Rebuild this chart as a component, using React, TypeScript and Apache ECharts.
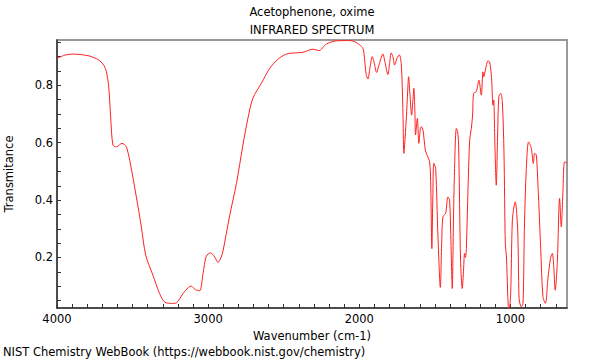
import React, { useEffect, useRef } from "react";
import * as echarts from "echarts";

const wavenumbers = [
  4000, 3950, 3894, 3840, 3784, 3740, 3718, 3690, 3673, 3658, 3645, 3630, 3607, 3585, 3570, 3555, 3541, 3519,
  3475, 3442, 3413, 3365, 3321, 3288, 3243, 3210, 3167, 3130, 3111, 3085, 3056, 3034, 3012, 2985, 2957, 2935,
  2915, 2902, 2858, 2813, 2770, 2737, 2704, 2648, 2593, 2538, 2483, 2430, 2373, 2307, 2267, 2218, 2152, 2064,
  2030, 1998, 1976, 1965, 1955, 1943, 1930, 1914, 1900, 1886, 1865, 1844, 1830, 1811, 1800, 1789, 1778, 1766,
  1750, 1735, 1722, 1712, 1705, 1697, 1689, 1680, 1674, 1664, 1654, 1645, 1639, 1632, 1628, 1616, 1606, 1596,
  1590, 1579, 1563, 1550, 1535, 1528, 1520, 1514, 1507, 1495, 1480, 1464, 1455, 1447, 1429, 1414, 1403, 1395,
  1385, 1378, 1370, 1358, 1350, 1343, 1330, 1319, 1310, 1304, 1298, 1292, 1282, 1270, 1259, 1250, 1244, 1226,
  1209, 1193, 1182, 1176, 1166, 1149, 1138, 1125, 1116, 1111, 1103, 1094, 1085, 1077, 1065, 1054, 1043, 1034,
  1027, 1017, 1010, 999, 988, 977, 968, 958, 951, 944, 940, 928, 917, 907, 895, 880, 862, 849, 840, 829, 818,
  800, 785, 769, 752, 735, 723, 713, 704, 690, 675, 664, 653, 642, 626,
];

const transmittance = [
  0.894, 0.905, 0.909, 0.907, 0.902, 0.893, 0.886, 0.870, 0.847, 0.795, 0.690, 0.592, 0.586, 0.593, 0.598, 0.594,
  0.586, 0.539, 0.411, 0.307, 0.208, 0.138, 0.074, 0.045, 0.040, 0.042, 0.074, 0.096, 0.100, 0.088, 0.084, 0.144,
  0.205, 0.216, 0.202, 0.183, 0.200, 0.222, 0.345, 0.458, 0.592, 0.685, 0.755, 0.807, 0.859, 0.891, 0.909, 0.913,
  0.915, 0.926, 0.921, 0.944, 0.955, 0.956, 0.952, 0.941, 0.929, 0.890, 0.840, 0.822, 0.860, 0.900, 0.875, 0.845,
  0.880, 0.909, 0.880, 0.838, 0.875, 0.913, 0.900, 0.871, 0.895, 0.906, 0.871, 0.720, 0.563, 0.620, 0.685, 0.780,
  0.830, 0.760, 0.696, 0.750, 0.790, 0.700, 0.627, 0.685, 0.598, 0.650, 0.656, 0.644, 0.574, 0.555, 0.533, 0.464,
  0.231, 0.400, 0.528, 0.510, 0.278, 0.096, 0.250, 0.342, 0.354, 0.411, 0.400, 0.280, 0.092, 0.300, 0.510, 0.650,
  0.640, 0.592, 0.185, 0.092, 0.160, 0.214, 0.200, 0.231, 0.417, 0.609, 0.650, 0.700, 0.772, 0.778, 0.818, 0.766,
  0.847, 0.830, 0.853, 0.885, 0.882, 0.824, 0.731, 0.749, 0.592, 0.452, 0.627, 0.760, 0.772, 0.743, 0.568, 0.243,
  0.208, 0.057, 0.012, 0.069, 0.324, 0.377, 0.394, 0.348, 0.278, 0.069, 0.045, 0.028, 0.040, 0.324, 0.510, 0.603,
  0.580, 0.528, 0.563, 0.557, 0.452, 0.231, 0.063, 0.040, 0.127, 0.197, 0.214, 0.162, 0.086, 0.185, 0.406, 0.307,
  0.429, 0.533, 0.530,
];

const xTickValues = [
  700, 800, 900, 1000, 1100, 1200, 1300, 1400, 1500, 1600, 1700, 1800, 1900, 2000, 2100, 2200, 2300, 2400, 2500,
  2600, 2700, 2800, 2900, 3000, 3100, 3200, 3300, 3400, 3500, 3600, 3700, 3800, 3900, 4000,
];
const xLabelValues = [1000, 2000, 3000, 4000];
const yTickValues = [
  0.05, 0.1, 0.15, 0.2, 0.25, 0.3, 0.35, 0.4, 0.45, 0.5, 0.55, 0.6, 0.65, 0.7, 0.75, 0.8, 0.85, 0.9, 0.95,
];
const yLabelValues = [0.2, 0.4, 0.6, 0.8];

const titleLine1 = "Acetophenone, oxime";
const titleLine2 = "INFRARED SPECTRUM";
const xName = "Wavenumber (cm-1)";
const yName = "Transmitance";
const footer = "NIST Chemistry WebBook (https://webbook.nist.gov/chemistry)";

const FONT = "DejaVu Sans";
const FS = 11.5;

export default function App() {
  const ref = useRef<HTMLDivElement>(null);
  useEffect(() => {
    if (!ref.current) return;
    const chart = echarts.init(ref.current, undefined, { renderer: "svg" });
    const data = wavenumbers.map((w, i) => [w, transmittance[i]]);
    chart.setOption({
      animation: false,
      backgroundColor: "#ffffff",
      textStyle: { fontFamily: FONT },
      grid: {
        left: 57,
        right: 33,
        top: 40,
        bottom: 52,
        containLabel: false,
        outerBoundsMode: "none",
        show: true,
        borderColor: "#9a9a9a",
        borderWidth: 2,
        backgroundColor: "transparent",
      },
      xAxis: {
        type: "value",
        inverse: true,
        min: 626,
        max: 4000,
        name: xName,
        nameLocation: "middle",
        nameGap: 18,
        nameTextStyle: { fontFamily: FONT, fontSize: FS, color: "#000", verticalAlign: "top" },
        axisLine: { show: true, onZero: false, lineStyle: { color: "#333", width: 1.5 } },
        axisTick: { show: true, inside: true, length: 4, customValues: xTickValues, lineStyle: { color: "#333" } },
        axisLabel: {
          show: true,
          customValues: xLabelValues,
          margin: 5,
          fontFamily: FONT,
          fontSize: FS,
          color: "#000",
          formatter: (v: number) => String(Math.round(v)),
        },
        splitLine: { show: false },
      },
      yAxis: {
        type: "value",
        min: 0.024,
        max: 0.958,
        name: yName,
        nameLocation: "middle",
        nameRotate: 90,
        nameGap: 42,
        nameTextStyle: { fontFamily: FONT, fontSize: FS, color: "#000" },
        axisLine: { show: true, onZero: false, lineStyle: { color: "#333", width: 1.5 } },
        axisTick: { show: true, inside: true, length: 4, customValues: yTickValues, lineStyle: { color: "#333" } },
        axisLabel: {
          show: true,
          customValues: yLabelValues,
          margin: 4,
          fontFamily: FONT,
          fontSize: FS,
          color: "#000",
          formatter: (v: number) => v.toFixed(1),
        },
        splitLine: { show: false },
      },
      graphic: [
        {
          type: "text",
          x: 312,
          y: 12,
          style: { text: titleLine1, fontFamily: FONT, fontSize: FS, fill: "#000", textAlign: "center", textVerticalAlign: "middle" },
        },
        {
          type: "text",
          x: 312,
          y: 30,
          style: { text: titleLine2, fontFamily: FONT, fontSize: FS, fill: "#000", textAlign: "center", textVerticalAlign: "middle" },
        },
        {
          type: "text",
          x: 3,
          y: 352,
          style: { text: footer, fontFamily: FONT, fontSize: FS, fill: "#000", textAlign: "left", textVerticalAlign: "middle" },
        },
      ],
      series: [
        {
          type: "line",
          data,
          showSymbol: false,
          smooth: 0.3,
          clip: true,
          lineStyle: { color: "#ff2020", width: 1 },
        },
      ],
    });
    return () => chart.dispose();
  }, []);
  return (
    <div
      ref={ref}
      style={{ position: "fixed", left: 0, top: 0, width: 600, height: 360, background: "#fff" }}
    />
  );
}
